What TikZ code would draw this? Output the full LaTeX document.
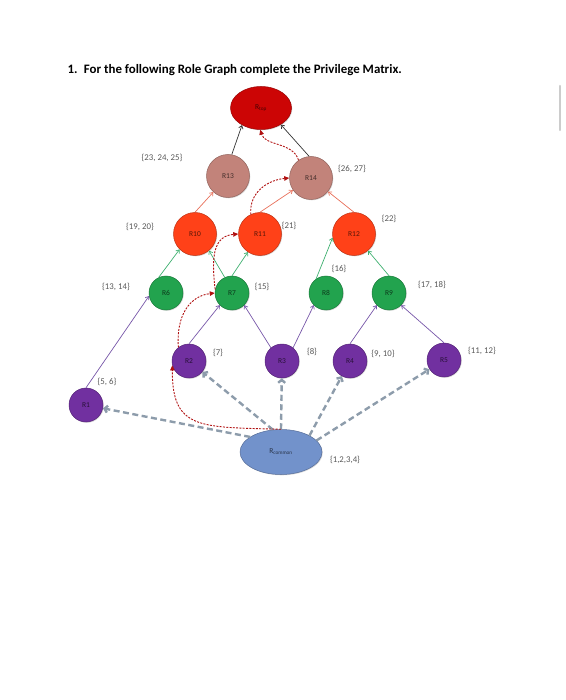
\documentclass[tikz,border=0pt]{standalone}
\usepackage{fontspec}
\setmainfont{Carlito}
\usetikzlibrary{arrows.meta,shadows,shapes.geometric}

\definecolor{topred}{HTML}{CC0505}
\definecolor{rosy}{HTML}{C2837A}
\definecolor{flame}{HTML}{FF4118}
\definecolor{leaf}{HTML}{22A34E}
\definecolor{plum}{HTML}{7130A0}
\definecolor{steel}{HTML}{7292CB}
\definecolor{salmonline}{HTML}{E8705A}
\definecolor{leafline}{HTML}{3FB070}
\definecolor{plumline}{HTML}{7656A8}
\definecolor{greydash}{HTML}{8D9CAB}
\definecolor{privred}{HTML}{B01010}

\begin{document}
\begin{tikzpicture}
  [
  x = 1pt, y = -1pt,
  role/.style    = {circle, draw = #1!75!black, fill = #1, line width = 0.5pt,
                    minimum size = 34pt, inner sep = 0pt,
                    font = \fontsize{7.5}{8}\selectfont, text = #1!35!black,
                    drop shadow = {shadow xshift = 0.8pt, shadow yshift = -0.8pt, opacity = 0.3}},
  bigrole/.style = {role = #1, minimum size = 43pt},
  oval/.style    = {ellipse, draw = #1!75!black, fill = #1, line width = 0.5pt,
                    inner sep = 0pt, font = \fontsize{7.5}{8}\selectfont, text = #1!35!black,
                    drop shadow = {shadow xshift = 0.8pt, shadow yshift = -0.8pt, opacity = 0.3}},
  privs/.style   = {font = \fontsize{8.8}{10}\selectfont, text = black!65},
  inherit/.style = {draw = #1, line width = 0.7pt, -{Straight Barb[length = 3pt, width = 4.5pt]}},
  assign/.style  = {draw = greydash, line width = 2.4pt, dash pattern = on 6pt off 3.5pt,
                    -{Straight Barb[length = 3pt, width = 7pt]}},
  grant/.style   = {draw = privred, line width = 0.9pt, dash pattern = on 2pt off 1.3pt,
                    -{Triangle[length = 5pt, width = 4.5pt]}}
  ]
  \useasboundingbox (0,0) rectangle (565,700);

  \node [anchor = west, font = \bfseries\fontsize{12.9}{14}\selectfont]
        (title) at (64,70) {1.\enspace For the following Role Graph complete the Privilege Matrix.};
  \draw [line width = 2.5pt, black!20, line cap = round] (560,86) -- (560,130);

  % roles
  \node [oval = topred, minimum width = 61pt, minimum height = 43pt] (Rtop) at (261,108) {R$_{\mathrm{top}}$};
  \node [bigrole = rosy]  (R13) at (228,176) {R13};
  \node [bigrole = rosy]  (R14) at (311,178) {R14};
  \node [bigrole = flame] (R10) at (195,234) {R10};
  \node [bigrole = flame] (R11) at (260,234) {R11};
  \node [bigrole = flame] (R12) at (354,234) {R12};
  \node [role = leaf]     (R6)  at (166,293) {R6};
  \node [role = leaf]     (R7)  at (232,293) {R7};
  \node [role = leaf]     (R8)  at (326,293) {R8};
  \node [role = leaf]     (R9)  at (389,293) {R9};
  \node [role = plum]     (R1)  at (86,405)  {R1};
  \node [role = plum]     (R2)  at (189,361) {R2};
  \node [role = plum]     (R3)  at (282,361) {R3};
  \node [role = plum]     (R4)  at (350,361) {R4};
  \node [role = plum]     (R5)  at (444,360) {R5};
  \node [oval = steel, minimum width = 82pt, minimum height = 45pt] (Rcommon) at (281,452) {R$_{\mathrm{common}}$};

  % privilege sets
  \node [privs] (p13)  at (162,158) {\{23, 24, 25\}};
  \node [privs] (p14)  at (352,169) {\{26, 27\}};
  \node [privs] (p10)  at (140,227) {\{19, 20\}};
  \node [privs] (p11)  at (289,226) {\{21\}};
  \node [privs] (p12)  at (389,219) {\{22\}};
  \node [privs] (p8)   at (339,269) {\{16\}};
  \node [privs] (p6)   at (116,287) {\{13, 14\}};
  \node [privs] (p7)   at (262,287) {\{15\}};
  \node [privs] (p9)   at (432,285) {\{17, 18\}};
  \node [privs] (p2)   at (218,353) {\{7\}};
  \node [privs] (p3)   at (312,352) {\{8\}};
  \node [privs] (p4)   at (383,354) {\{9, 10\}};
  \node [privs] (p5)   at (482,351) {\{11, 12\}};
  \node [privs] (p1)   at (107,382) {\{5, 6\}};
  \node [privs] (pcom) at (345,460) {\{1,2,3,4\}};

  % role hierarchy
  \path
    (R13.80)    edge [inherit = black!80]    (Rtop.-138)
    (R14.95)    edge [inherit = black!80]    (Rtop.-40)
    (R10.north) edge [inherit = salmonline]  (R13)
    (R11.north) edge [inherit = salmonline]  (R14)
    (R12.north) edge [inherit = salmonline]  (R14)
    (R6.115)    edge [inherit = leafline]    (R10.-135)
    (R7.115)    edge [inherit = leafline]    (R10.-50)
    (R7.north)  edge [inherit = leafline]    (R11)
    (R8.125)    edge [inherit = leafline]    (R12.190)
    (R9.north)  edge [inherit = leafline]    (R12)
    (R1.north)  edge [inherit = plumline]    (R6.190)
    (R2.north)  edge [inherit = plumline]    (R7.-135)
    (R3.130)    edge [inherit = plumline]    (R7.-45)
    (R3.50)     edge [inherit = plumline]    (R8.-135)
    (R4.north)  edge [inherit = plumline]    (R9.-135)
    (R5.north)  edge [inherit = plumline]    (R9.-45);

  % R_common below everyone
  \path
    (Rcommon.154)   edge [assign] (R1)
    (Rcommon.110)   edge [assign] (R2)
    (Rcommon.north) edge [assign] (R3)
    (Rcommon.30)    edge [assign] (R4)
    (Rcommon.18)    edge [assign] (R5);

  % path of inherited privileges
  \draw [grant] (Rcommon.north) .. controls (200,427) and (172,430) .. (R2.195);
  \draw [grant] (R2.128) .. controls (176,315) and (190,296) .. (R7.west);
  \draw [grant] (R7.168) .. controls (211,255) and (214,236) .. (R11.west);
  \draw [grant] (R11.115) .. controls (249,192) and (268,180) .. (R14.west);
  \draw [grant] (R14.125) .. controls (293,142) and (265,146) .. (Rtop.-92);
\end{tikzpicture}
\end{document}
